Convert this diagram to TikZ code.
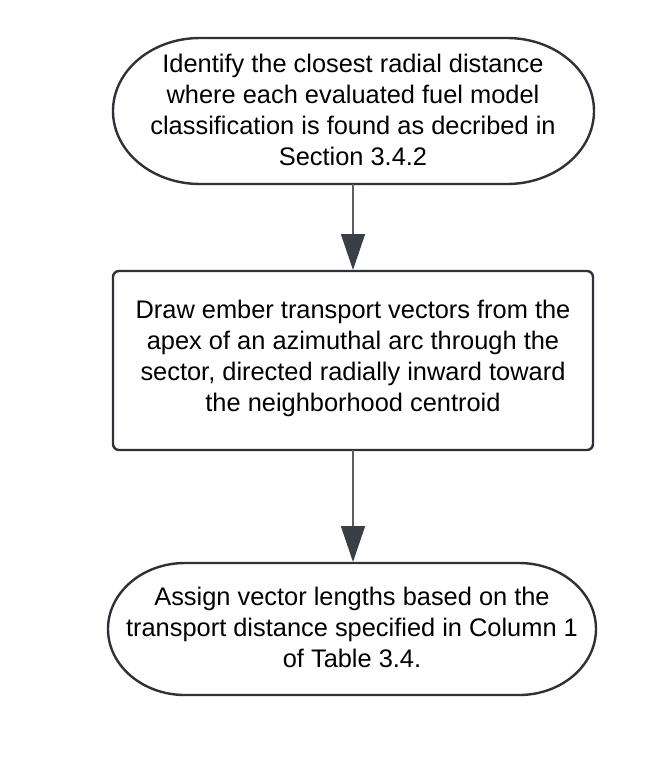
\documentclass[tikz,border=0pt]{standalone}
\usepackage{fontspec}
\setmainfont{Liberation Sans}
\usetikzlibrary{arrows.meta}
\definecolor{edge}{HTML}{2E3138}
\definecolor{arrowc}{HTML}{3A3F47}
\definecolor{linec}{HTML}{5A5F66}
\tikzset{
  boxline/.style={draw=edge, line width=2.4pt, line join=round},
  txt/.style={align=center, font=\fontsize{25.4}{31}\selectfont, text=black, inner sep=0pt},
  conn/.style={draw=linec, line width=1.6pt, -{Triangle[length=36pt,width=24pt,fill=arrowc,color=arrowc]}, shorten >=1pt}
}
\begin{document}
\begin{tikzpicture}[x=1pt,y=-1pt]
\useasboundingbox (0,0) rectangle (654,774);
% top terminator
\draw[boxline] (200,38) -- (507,38) arc[start angle=-90,end angle=90,x radius=87,y radius=73] -- (200,184) arc[start angle=90,end angle=270,x radius=87,y radius=73] -- cycle;
\node[txt] (t1) at (353,110) {Identify the closest radial distance\\where each evaluated fuel model\\classification is found as decribed in\\Section 3.4.2};
\coordinate (b1) at (353,184);
% middle process box
\draw[boxline, rounded corners=6pt] (113,271) rectangle (593,450);
\node[txt] (t2) at (353,358) {Draw ember transport vectors from the\\apex of an azimuthal arc through the\\sector, directed radially inward toward\\the neighborhood centroid};
\coordinate (a2) at (353,271);
\coordinate (b2) at (353,450);
% bottom terminator
\draw[boxline] (185,563) -- (519,563) arc[start angle=-90,end angle=90,x radius=77,y radius=66] -- (185,695) arc[start angle=90,end angle=270,x radius=77,y radius=66] -- cycle;
\node[txt] (t3) at (352,627) {Assign vector lengths based on the\\transport distance specified in Column 1\\of Table 3.4.};
\coordinate (a3) at (353,563);
\draw[conn] (b1) -- (a2);
\draw[conn] (b2) -- (a3);
\end{tikzpicture}
\end{document}
